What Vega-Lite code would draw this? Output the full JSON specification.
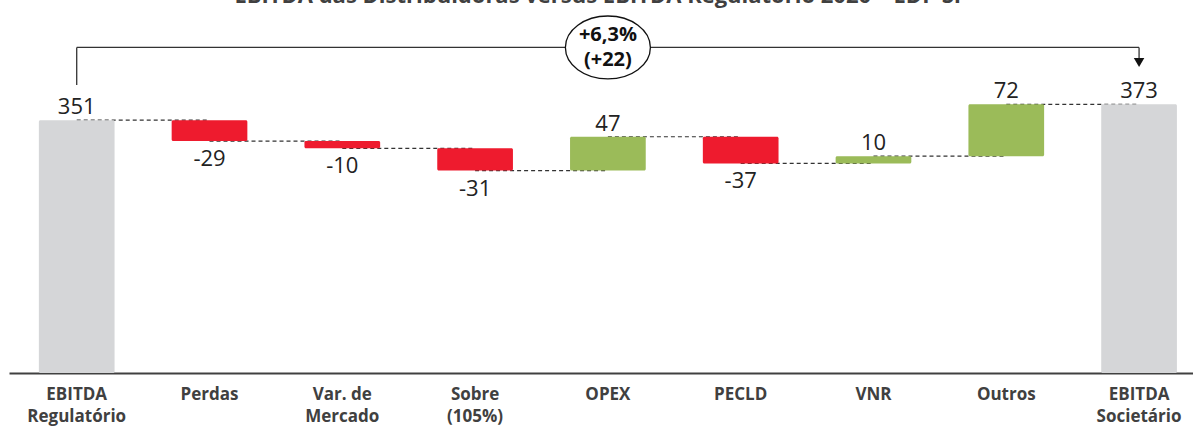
{
  "$schema": "https://vega.github.io/schema/vega-lite/v6.json",
  "autosize": {"type": "none"},
  "width": 1184,
  "height": 363,
  "padding": {"left": 9, "top": 10, "right": 0, "bottom": 54},
  "background": "white",
  "title": {
    "text": "EBITDA das Distribuidoras versus EBITDA Regulatório 2020 – EDP SP",
    "font": "Open Sans",
    "fontSize": 22,
    "fontWeight": "bold",
    "color": "#404040",
    "anchor": "middle",
    "dy": 2
  },
  "config": {
    "view": {"stroke": null},
    "axis": {"grid": false}
  },
  "data": {
    "values": [
      {"cat": "EBITDA\nRegulatório", "start": 0, "end": 351, "value": 351, "label": "351", "kind": "total", "next": "Perdas"},
      {"cat": "Perdas", "start": 351, "end": 322, "value": -29, "label": "-29", "kind": "down", "next": "Var. de\nMercado"},
      {"cat": "Var. de\nMercado", "start": 322, "end": 312, "value": -10, "label": "-10", "kind": "down", "next": "Sobre\n(105%)"},
      {"cat": "Sobre\n(105%)", "start": 312, "end": 281, "value": -31, "label": "-31", "kind": "down", "next": "OPEX"},
      {"cat": "OPEX", "start": 281, "end": 328, "value": 47, "label": "47", "kind": "up", "next": "PECLD"},
      {"cat": "PECLD", "start": 328, "end": 291, "value": -37, "label": "-37", "kind": "down", "next": "VNR"},
      {"cat": "VNR", "start": 291, "end": 301, "value": 10, "label": "10", "kind": "up", "next": "Outros"},
      {"cat": "Outros", "start": 301, "end": 373, "value": 72, "label": "72", "kind": "up", "next": "EBITDA\nSocietário"},
      {"cat": "EBITDA\nSocietário", "start": 0, "end": 373, "value": 373, "label": "373", "kind": "total"}
    ]
  },
  "encoding": {
    "x": {
      "field": "cat",
      "type": "nominal",
      "sort": null,
      "scale": {"paddingInner": 0.43, "paddingOuter": 0.173, "align": 0.65},
      "axis": {
        "title": null,
        "ticks": false,
        "domain": true,
        "domainColor": "#404040",
        "domainWidth": 2,
        "labelAngle": 0,
        "labelFont": "Open Sans",
        "labelFontWeight": "bold",
        "labelFontSize": 17,
        "labelColor": "#404040",
        "labelPadding": 13,
        "labelLineHeight": 22,
        "labelExpr": "split(datum.label, '\\n')"
      }
    }
  },
  "layer": [
    {
      "transform": [{"filter": "isValid(datum.next)"}],
      "mark": {"type": "rule", "color": "#333333", "strokeWidth": 1.2, "strokeDash": [4, 3]},
      "encoding": {
        "x2": {"field": "next"},
        "y": {"field": "end", "type": "quantitative", "scale": {"domain": [0, 504], "nice": false, "zero": true}, "axis": null}
      }
    },
    {
      "mark": {"type": "bar", "cornerRadius": 1.5},
      "encoding": {
        "y": {"field": "start", "type": "quantitative"},
        "y2": {"field": "end"},
        "color": {
          "field": "kind",
          "type": "nominal",
          "scale": {"domain": ["total", "up", "down"], "range": ["#D5D6D8", "#9BBB59", "#EE1B2E"]},
          "legend": null
        }
      }
    },
    {
      "transform": [{"filter": "datum.value >= 0"}],
      "mark": {"type": "text", "font": "Open Sans", "fontSize": 22, "color": "#222222", "baseline": "alphabetic", "dy": -6},
      "encoding": {
        "y": {"field": "end", "type": "quantitative"},
        "text": {"field": "label"}
      }
    },
    {
      "transform": [{"filter": "datum.value < 0"}],
      "mark": {"type": "text", "font": "Open Sans", "fontSize": 22, "color": "#222222", "baseline": "alphabetic", "dy": 25},
      "encoding": {
        "y": {"field": "end", "type": "quantitative"},
        "text": {"field": "label"}
      }
    },
    {
      "data": {"values": [{"cat": "EBITDA\nRegulatório", "to": "EBITDA\nSocietário", "level": 452}]},
      "mark": {"type": "rule", "color": "#333333", "strokeWidth": 1.3},
      "encoding": {
        "x": {"field": "cat", "type": "nominal", "sort": null},
        "x2": {"field": "to"},
        "y": {"field": "level", "type": "quantitative"}
      }
    },
    {
      "data": {"values": [
        {"cat": "EBITDA\nRegulatório", "from": 452, "to": 400},
        {"cat": "EBITDA\nSocietário", "from": 452, "to": 434}
      ]},
      "mark": {"type": "rule", "color": "#333333", "strokeWidth": 1.3},
      "encoding": {
        "x": {"field": "cat", "type": "nominal", "sort": null},
        "y": {"field": "from", "type": "quantitative"},
        "y2": {"field": "to"}
      }
    },
    {
      "data": {"values": [{"cat": "EBITDA\nSocietário", "tip": 431}]},
      "mark": {"type": "point", "shape": "triangle-down", "filled": true, "color": "#111111", "size": 110, "opacity": 1},
      "encoding": {
        "x": {"field": "cat", "type": "nominal", "sort": null},
        "y": {"field": "tip", "type": "quantitative"}
      }
    },
    {
      "data": {"values": [{"cat": "OPEX", "level": 452, "text": "+6,3%\n(+22)"}]},
      "layer": [
        {
          "mark": {
            "type": "point",
            "shape": "M -1 0 A 1 0.74 0 1 0 1 0 A 1 0.74 0 1 0 -1 0 Z",
            "filled": true,
            "fill": "white",
            "stroke": "#111111",
            "strokeWidth": 1.3,
            "size": 7225,
            "opacity": 1
          },
          "encoding": {
            "x": {"field": "cat", "type": "nominal", "sort": null},
            "y": {"field": "level", "type": "quantitative"}
          }
        },
        {
          "mark": {"type": "text", "font": "Open Sans", "fontSize": 20, "fontWeight": "bold", "color": "#111111", "lineBreak": "\n", "lineHeight": 25, "baseline": "middle", "dy": -12},
          "encoding": {
            "x": {"field": "cat", "type": "nominal", "sort": null},
            "y": {"field": "level", "type": "quantitative"},
            "text": {"field": "text"}
          }
        }
      ]
    }
  ]
}
